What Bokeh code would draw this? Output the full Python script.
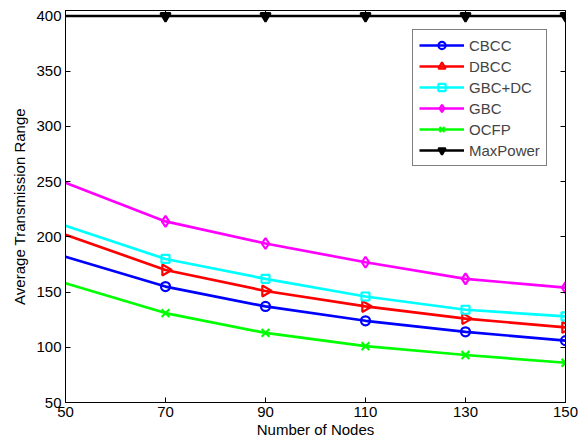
import math
from bokeh.plotting import figure
from bokeh.models import LinearAxis, Range1d, FixedTicker, Legend
from bokeh.embed import file_html
from bokeh.resources import INLINE

nodes = [50, 70, 90, 110, 130, 150]
cbcc = [182, 155, 137, 124, 114, 106]
dbcc = [202, 170, 151, 137, 126, 118]
gbc_dc = [210, 180, 162, 146, 134, 128]
gbc = [249, 214, 194, 177, 162, 154]
ocfp = [158, 131, 113, 101, 93, 86]
maxpower = [400, 400, 400, 400, 400, 400]
y_ticks = [50, 100, 150, 200, 250, 300, 350, 400]

series = [
    ("CBCC", cbcc, "#0000FF", "circle", 0.0, None, 9),
    ("DBCC", dbcc, "#FF0000", "triangle", -math.pi / 2, None, 11),
    ("GBC+DC", gbc_dc, "#00FFFF", "square", 0.0, None, 8),
    ("GBC", gbc, "#FF00FF", "diamond", 0.0, None, 11),
    ("OCFP", ocfp, "#00FF00", "x", 0.0, None, 11),
    ("MaxPower", maxpower, "#000000", "inverted_triangle", 0.0, "#000000", 10),
]

FONT = "Liberation Sans"

p = figure(width=587, height=442, output_backend="svg", toolbar_location=None,
           x_range=Range1d(50, 150), y_range=Range1d(50, 405),
           min_border_left=65, min_border_right=22, min_border_top=10, min_border_bottom=40)
p.frame_width = 500
p.frame_height = 392

p.xgrid.visible = False
p.ygrid.visible = False
p.outline_line_color = "black"
p.outline_line_width = 1

items = []
for name, vals, color, marker, ang, fill, sz in series:
    l = p.line(nodes, vals, line_color=color, line_width=2.7)
    s = p.scatter(nodes[1:], vals[1:], marker=marker, size=sz, angle=ang,
                  line_color=color, line_width=2.2, fill_color=fill)
    items.append((name, [l, s]))

xt = FixedTicker(ticks=nodes)
yt = FixedTicker(ticks=y_ticks)

for ax in p.xaxis + p.yaxis:
    ax.major_tick_in = 5
    ax.major_tick_out = 0
    ax.minor_tick_line_color = None
    ax.axis_line_color = "black"
    ax.major_label_text_font = FONT
    ax.major_label_text_font_size = "15px"
    ax.major_label_text_color = "black"
    ax.axis_label_text_font = FONT
    ax.axis_label_text_font_size = "15px"
    ax.axis_label_text_font_style = "normal"
    ax.axis_label_text_color = "black"

p.xaxis.ticker = xt
p.yaxis.ticker = yt
p.xaxis.axis_label = "Number of Nodes"
p.yaxis.axis_label = "Average Transmission Range"
p.xaxis.major_label_standoff = 4
p.xaxis.axis_label_standoff = 1
p.yaxis.major_label_standoff = 4
p.yaxis.axis_label_standoff = 5

top = LinearAxis(ticker=xt, major_tick_in=5, major_tick_out=0,
                 minor_tick_line_color=None, axis_line_color="black",
                 major_label_overrides={t: "" for t in nodes})
right = LinearAxis(ticker=yt, major_tick_in=5, major_tick_out=0,
                   minor_tick_line_color=None, axis_line_color="black",
                   major_label_overrides={t: "" for t in y_ticks})
p.add_layout(top, "above")
p.add_layout(right, "right")

legend = Legend(items=items, location=(347, 236))
legend.border_line_color = "black"
legend.border_line_width = 1
legend.background_fill_color = "white"
legend.background_fill_alpha = 1
legend.label_text_font = FONT
legend.label_text_font_size = "15px"
legend.glyph_width = 45
legend.glyph_height = 18
legend.label_height = 18
legend.spacing = 3
legend.padding = 6
legend.margin = 0
legend.label_standoff = 5
p.add_layout(legend, "center")

open("out.html", "w").write(file_html(p, INLINE))
